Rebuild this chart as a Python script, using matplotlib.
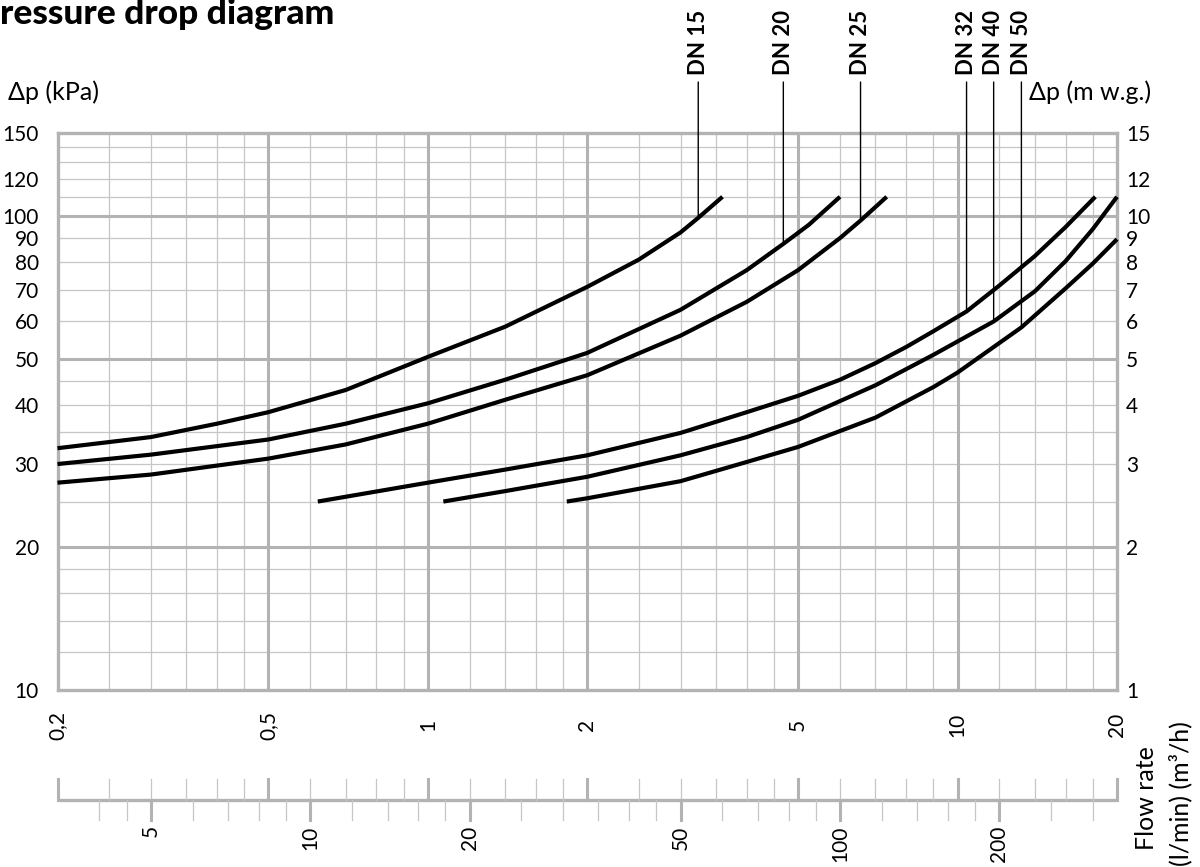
import matplotlib
matplotlib.use("Agg")
import matplotlib.pyplot as plt
import matplotlib.transforms as mtransforms
from matplotlib.ticker import NullLocator

# flow rate (m3/h) and pressure drop (kPa)
flow_dn15 = [0.2, 0.3, 0.4, 0.5, 0.7, 1.0, 1.4, 2.0, 2.5, 3.0, 3.24, 3.6]
dp_dn15 = [32.4, 34.2, 36.5, 38.6, 43.0, 50.5, 58.5, 71.0, 81.0, 92.5, 99.3, 110.0]

flow_dn20 = [0.2, 0.3, 0.5, 0.7, 1.0, 1.4, 2.0, 3.0, 4.0, 4.69, 5.24, 6.0]
dp_dn20 = [30.0, 31.4, 33.8, 36.5, 40.3, 45.2, 51.5, 63.5, 77.0, 87.5, 96.0, 110.0]

flow_dn25 = [0.2, 0.3, 0.5, 0.7, 1.0, 1.4, 2.0, 3.0, 4.0, 5.0, 6.0, 6.56, 7.35]
dp_dn25 = [27.4, 28.5, 30.8, 33.0, 36.5, 41.0, 46.2, 56.0, 66.0, 77.0, 90.0, 98.0, 110.0]

flow_dn32 = [0.62, 1.0, 1.4, 2.0, 3.0, 4.0, 5.0, 6.0, 7.0, 8.0, 9.0, 10.4, 12.0, 14.0, 16.0, 18.2]
dp_dn32 = [25.0, 27.4, 29.2, 31.3, 34.9, 38.6, 41.8, 45.2, 49.0, 53.0, 57.2, 63.0, 71.5, 82.5, 95.0, 110.0]

flow_dn40 = [1.07, 1.4, 2.0, 3.0, 4.0, 5.0, 7.0, 9.0, 11.7, 14.0, 16.0, 18.0, 20.0]
dp_dn40 = [25.0, 26.3, 28.2, 31.3, 34.2, 37.2, 44.0, 51.0, 60.0, 69.5, 80.5, 94.0, 110.0]

flow_dn50 = [1.83, 2.0, 3.0, 4.0, 5.0, 7.0, 9.0, 10.0, 13.2, 16.0, 18.0, 20.0]
dp_dn50 = [25.0, 25.4, 27.6, 30.3, 32.6, 37.6, 43.6, 46.8, 58.3, 70.5, 79.5, 89.5]

dn_names = ["DN 15", "DN 20", "DN 25", "DN 32", "DN 40", "DN 50"]
label_flow = [3.24, 4.69, 6.56, 10.4, 11.7, 13.2]
label_dp = [99.3, 87.5, 98.0, 63.0, 60.0, 58.3]

# axis scales
kpa_ticks = [10, 20, 30, 40, 50, 60, 70, 80, 90, 100, 120, 150]
kpa_labels = ["10", "20", "30", "40", "50", "60", "70", "80", "90", "100", "120", "150"]
mwg_labels = ["1", "2", "3", "4", "5", "6", "7", "8", "9", "10", "12", "15"]
flow_ticks = [0.2, 0.5, 1, 2, 5, 10, 20]
flow_labels = ["0,2", "0,5", "1", "2", "5", "10", "20"]
lmin_ticks = [5, 10, 20, 50, 100, 200]
lmin_labels = ["5", "10", "20", "50", "100", "200"]

x_minor = [0.25, 0.3, 0.35, 0.4, 0.45, 0.6, 0.7, 0.8, 0.9, 1.2, 1.4, 1.6, 1.8,
           2.5, 3, 3.5, 4, 4.5, 6, 7, 8, 9, 12, 14, 16, 18]
x_major = [0.5, 1, 2, 5, 10]
y_minor = [12, 14, 16, 18, 25, 30, 35, 40, 45, 60, 70, 80, 90, 110, 120, 130, 140]
y_major = [20, 50, 100]
lmin_minor = [4, 4.5, 6, 7, 8, 9, 12, 14, 16, 18, 25, 30, 35, 40, 45,
              60, 70, 80, 90, 120, 140, 160, 180, 250, 300]

GRID_MINOR = "#c6c6c6"
GRID_MAJOR = "#b3b3b3"
FONT = ["Lato", "DejaVu Sans"]

plt.rcParams["font.family"] = FONT

W, H = 1200, 867
fig = plt.figure(figsize=(W / 100, H / 100), dpi=100)
ax = fig.add_axes([57.5 / W, 1 - 690 / H, (1117 - 57.5) / W, (690 - 133) / H])
ax.set_xscale("log")
ax.set_yscale("log")
ax.set_xlim(0.2, 20)
ax.set_ylim(10, 150)

for v in x_minor:
    ax.axvline(v, color=GRID_MINOR, lw=0.9, zorder=1)
for v in y_minor:
    ax.axhline(v, color=GRID_MINOR, lw=0.9, zorder=1)
for v in x_major:
    ax.axvline(v, color=GRID_MAJOR, lw=2.2, zorder=1.5)
for v in y_major:
    ax.axhline(v, color=GRID_MAJOR, lw=2.2, zorder=1.5)
for sp in ax.spines.values():
    sp.set_color(GRID_MAJOR)
    sp.set_linewidth(2.4)

curves = [
    (flow_dn15, dp_dn15),
    (flow_dn20, dp_dn20),
    (flow_dn25, dp_dn25),
    (flow_dn32, dp_dn32),
    (flow_dn40, dp_dn40),
    (flow_dn50, dp_dn50),
]
for q, dp in curves:
    ax.plot(q, dp, color="black", lw=3.0, solid_capstyle="butt",
            solid_joinstyle="round", zorder=3, clip_on=False)

# DN labels with leader lines
for name, q, dp in zip(dn_names, label_flow, label_dp):
    ax.annotate(name, xy=(q, dp), xycoords="data",
                xytext=(q, 1.104), textcoords=("data", "axes fraction"),
                rotation=90, ha="center", va="bottom", fontsize=16,
                fontweight="bold",
                arrowprops=dict(arrowstyle="-", lw=1.0, color="black",
                                shrinkA=3, shrinkB=0))

# left / right pressure scales
ax.xaxis.set_minor_locator(NullLocator())
ax.yaxis.set_minor_locator(NullLocator())
ax.set_yticks(kpa_ticks, labels=kpa_labels)
ax.set_xticks([])
ax.tick_params(axis="y", length=0, pad=13.5, labelsize=15)

ax2 = ax.twinx()
ax2.set_yscale("log")
ax2.set_ylim(ax.get_ylim())
ax2.yaxis.set_minor_locator(NullLocator())
ax2.set_yticks(kpa_ticks, labels=mwg_labels)
ax2.tick_params(axis="y", length=0, pad=6.5, labelsize=15)
for sp in ax2.spines.values():
    sp.set_visible(False)

# flow rate scales below the chart
blend = mtransforms.blended_transform_factory(ax.transData, ax.transAxes)
for q, lab in zip(flow_ticks, flow_labels):
    ax.text(q, -0.063, lab, transform=blend, rotation=90, ha="center",
            va="center", fontsize=15)

line_y = -0.1975
ax.plot([0.2, 20], [line_y, line_y], transform=blend, color=GRID_MAJOR,
        lw=2.4, clip_on=False, solid_capstyle="butt")
for q in x_minor:
    ax.plot([q, q], [line_y, -0.160], transform=blend, color=GRID_MINOR,
            lw=0.9, clip_on=False)
for q in flow_ticks:
    ax.plot([q, q], [line_y, -0.160], transform=blend, color=GRID_MAJOR,
            lw=2.2, clip_on=False)
for l in lmin_minor:
    ax.plot([l * 0.06, l * 0.06], [line_y, -0.234], transform=blend,
            color=GRID_MINOR, lw=0.9, clip_on=False)
for l, lab in zip(lmin_ticks, lmin_labels):
    ax.plot([l * 0.06, l * 0.06], [line_y, -0.234], transform=blend,
            color=GRID_MAJOR, lw=2.2, clip_on=False)
    ax.text(l * 0.06, -0.243, lab, transform=blend, rotation=90,
            ha="center", va="top", fontsize=15)

# titles and units
fig.text(0.0, 1 - 24 / H, "ressure drop diagram", fontsize=25.5,
         fontweight="black", family=["Lato", "Liberation Sans", "DejaVu Sans"],
         ha="left", va="baseline")
fig.text(8 / W, 1 - 100 / H, "Δp (kPa)", fontsize=18, ha="left",
         va="baseline")
fig.text(1029 / W, 1 - 100 / H, "Δp (m w.g.)", fontsize=18, ha="left",
         va="baseline")
fig.text(1147 / W, 1 - 850 / H, "Flow rate", fontsize=18, rotation=90,
         ha="center", va="bottom")
fig.text(1180 / W, 1 - 866 / H, "(l/min) (m³/h)", fontsize=18, rotation=90,
         ha="center", va="bottom")

fig.savefig("out.png", dpi=100)
